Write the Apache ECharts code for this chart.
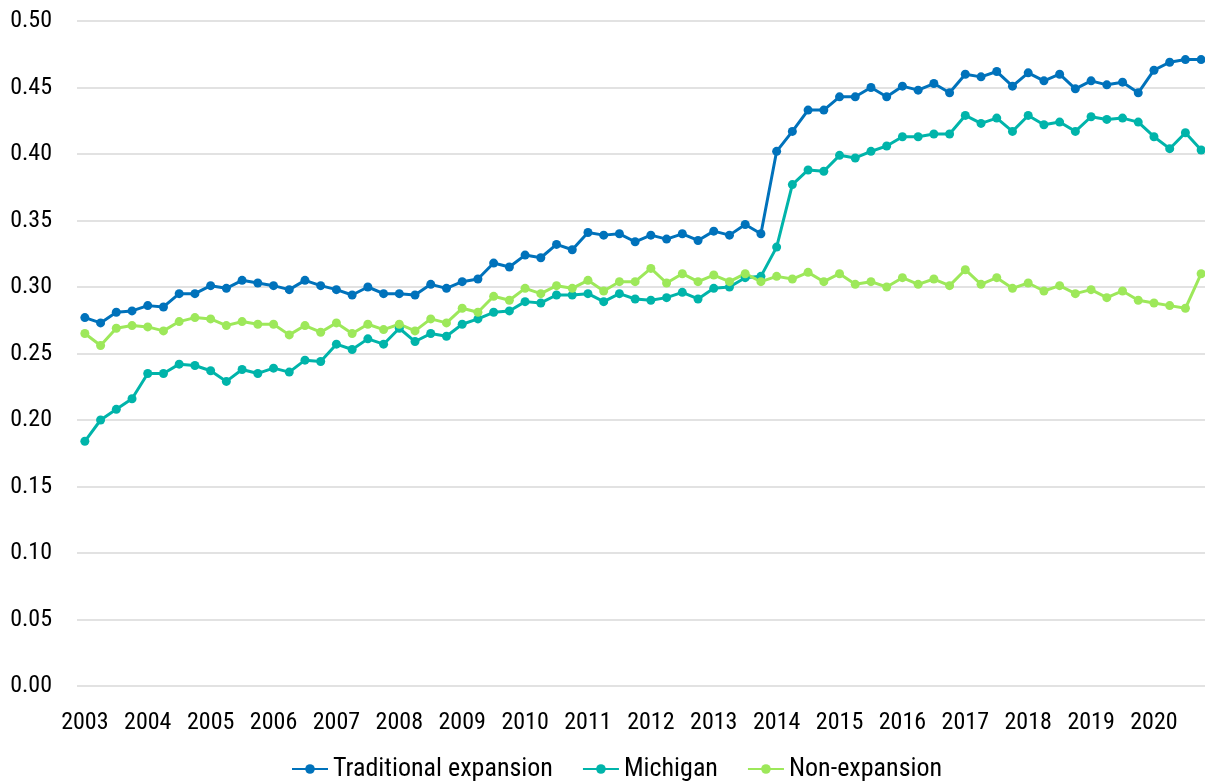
<!DOCTYPE html>
<html>
<head>
<meta charset="utf-8">
<title>Expansion chart</title>
<script src="https://cdn.jsdelivr.net/npm/echarts@6.0.0/dist/echarts.min.js"></script>
<style>
  html, body { margin: 0; padding: 0; background: #fff; overflow: hidden; }
  #main { width: 1215px; height: 783px; }
</style>
</head>
<body>
<div id="main"></div>
<script>
// quarters 2003 Q1 .. 2020 Q4
var quarters = [];
for (var y = 2003; y <= 2020; y++) {
  for (var q = 1; q <= 4; q++) quarters.push(y + ' Q' + q);
}

var traditional = [
  0.277, 0.273, 0.281, 0.282, 0.286, 0.285, 0.295, 0.295, 0.301, 0.299, 0.305, 0.303,
  0.301, 0.298, 0.305, 0.301, 0.298, 0.294, 0.300, 0.295, 0.295, 0.294, 0.302, 0.299,
  0.304, 0.306, 0.318, 0.315, 0.324, 0.322, 0.332, 0.328, 0.341, 0.339, 0.340, 0.334,
  0.339, 0.336, 0.340, 0.335, 0.342, 0.339, 0.347, 0.340, 0.402, 0.417, 0.433, 0.433,
  0.443, 0.443, 0.450, 0.443, 0.451, 0.448, 0.453, 0.446, 0.460, 0.458, 0.462, 0.451,
  0.461, 0.455, 0.460, 0.449, 0.455, 0.452, 0.454, 0.446, 0.463, 0.469, 0.471, 0.471
];

var michigan = [
  0.184, 0.200, 0.208, 0.216, 0.235, 0.235, 0.242, 0.241, 0.237, 0.229, 0.238, 0.235,
  0.239, 0.236, 0.245, 0.244, 0.257, 0.253, 0.261, 0.257, 0.269, 0.259, 0.265, 0.263,
  0.272, 0.276, 0.281, 0.282, 0.289, 0.288, 0.294, 0.294, 0.295, 0.289, 0.295, 0.291,
  0.290, 0.292, 0.296, 0.291, 0.299, 0.300, 0.307, 0.308, 0.330, 0.377, 0.388, 0.387,
  0.399, 0.397, 0.402, 0.406, 0.413, 0.413, 0.415, 0.415, 0.429, 0.423, 0.427, 0.417,
  0.429, 0.422, 0.424, 0.417, 0.428, 0.426, 0.427, 0.424, 0.413, 0.404, 0.416, 0.403
];

var nonExpansion = [
  0.265, 0.256, 0.269, 0.271, 0.270, 0.267, 0.274, 0.277, 0.276, 0.271, 0.274, 0.272,
  0.272, 0.264, 0.271, 0.266, 0.273, 0.265, 0.272, 0.268, 0.272, 0.267, 0.276, 0.273,
  0.284, 0.281, 0.293, 0.290, 0.299, 0.295, 0.301, 0.299, 0.305, 0.297, 0.304, 0.304,
  0.314, 0.303, 0.310, 0.304, 0.309, 0.304, 0.310, 0.304, 0.308, 0.306, 0.311, 0.304,
  0.310, 0.302, 0.304, 0.300, 0.307, 0.302, 0.306, 0.301, 0.313, 0.302, 0.307, 0.299,
  0.303, 0.297, 0.301, 0.295, 0.298, 0.292, 0.297, 0.290, 0.288, 0.286, 0.284, 0.310
];

var yTicks = [0, 0.05, 0.10, 0.15, 0.20, 0.25, 0.30, 0.35, 0.40, 0.45, 0.50];

var font = '"Roboto Condensed", "Liberation Sans Narrow", "Arial Narrow", Roboto, sans-serif';

var chartDom = document.getElementById('main');
var myChart = echarts.init(chartDom);
var option;

function lineSeries(name, data, color) {
  return {
    name: name,
    type: 'line',
    data: data,
    symbol: 'circle',
    symbolSize: 9,
    showAllSymbol: true,
    animation: false,
    itemStyle: { color: color },
    lineStyle: { color: color, width: 3 }
  };
}

option = {
  animation: false,
  textStyle: { fontFamily: font },
  grid: {
    left: 77,
    top: 21,
    width: 1132,
    height: 665
  },
  legend: {
    left: 286,
    top: 751,
    itemWidth: 36,
    itemHeight: 12,
    itemGap: 29,
    textStyle: { fontFamily: font, fontSize: 26, color: '#000' },
    data: ['Traditional expansion', 'Michigan', 'Non-expansion']
  },
  xAxis: {
    type: 'category',
    data: quarters,
    boundaryGap: true,
    axisLine: { show: false },
    axisTick: { show: false },
    axisLabel: {
      interval: 3,
      margin: 25,
      fontSize: 24,
      fontFamily: font,
      color: '#000',
      formatter: function (v) { return v.slice(0, 4); }
    }
  },
  yAxis: {
    type: 'value',
    min: yTicks[0],
    max: yTicks[yTicks.length - 1],
    interval: 0.05,
    axisLine: { show: false },
    axisTick: { show: false },
    splitLine: { lineStyle: { color: '#d9d9d9', width: 1.5 } },
    axisLabel: {
      margin: 25,
      fontSize: 24,
      fontFamily: font,
      color: '#000',
      formatter: function (v) { return v.toFixed(2); }
    }
  },
  series: [
    lineSeries('Traditional expansion', traditional, '#0072BB'),
    lineSeries('Michigan', michigan, '#00B4AA'),
    lineSeries('Non-expansion', nonExpansion, '#9DE85A')
  ]
};

option && myChart.setOption(option);
</script>
</body>
</html>
